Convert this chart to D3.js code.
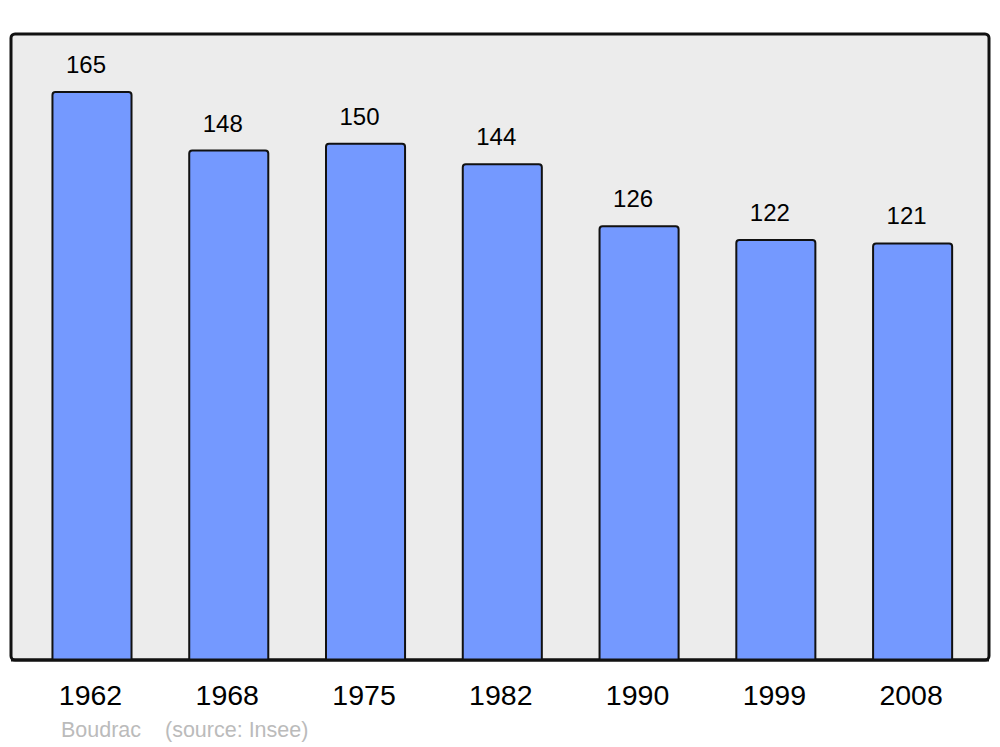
<!DOCTYPE html>
<html><head><meta charset="utf-8">
<script src="https://cdn.jsdelivr.net/npm/d3@7"></script>
<style>body{margin:0;background:#fff}svg{display:block}text{font-family:"Liberation Sans",Arial,sans-serif}</style>
</head><body>
<script>
const years = ["1962","1968","1975","1982","1990","1999","2008"];
const population = [165,148,150,144,126,122,121];
const commune = "Boudrac";
const sourceNote = "(source: Insee)";

const W = 1000, H = 747;
const svg = d3.select("body").append("svg").attr("width", W).attr("height", H);

const panel = {x0: 11, y0: 34, x1: 989, y1: 660};
svg.append("rect")
  .attr("x", panel.x0).attr("y", panel.y0)
  .attr("width", panel.x1 - panel.x0).attr("height", panel.y1 - panel.y0)
  .attr("rx", 4).attr("ry", 4)
  .attr("fill", "#ececec").attr("stroke", "#111").attr("stroke-width", 3);

const x = d3.scaleBand().domain(years).range([23.6, 981]).paddingInner(0.422).paddingOuter(0.211);
const y = d3.scaleLinear().domain([0, 165]).range([660, 92]);

const g = svg.append("g");
years.forEach((yr, i) => {
  const v = population[i];
  const x0 = x(yr), bw = x.bandwidth(), top = y(v), bot = y(0), r = 3;
  const p = `M${x0},${bot} L${x0},${top + r} Q${x0},${top} ${x0 + r},${top} L${x0 + bw - r},${top} Q${x0 + bw},${top} ${x0 + bw},${top + r} L${x0 + bw},${bot} Z`;
  g.append("path").attr("d", p).attr("fill", "#7499ff").attr("stroke", "#111").attr("stroke-width", 2);
  g.append("text").attr("x", x0 + bw / 2 - 6).attr("y", top - 19)
    .attr("text-anchor", "middle").attr("font-size", 24).attr("fill", "#000").text(v);
});

// redraw baseline on top
svg.append("line").attr("x1", panel.x0).attr("x2", panel.x1).attr("y1", panel.y1).attr("y2", panel.y1)
  .attr("stroke", "#111").attr("stroke-width", 3);

const xAxis = d3.axisBottom(x).tickSize(0).tickPadding(0);
const ax = svg.append("g").attr("transform", `translate(-1.5,${panel.y1})`).call(xAxis);
ax.select(".domain").remove();
ax.selectAll("text").attr("font-size", 28.5).attr("fill", "#000")
  .attr("font-family", "Liberation Sans, Arial, sans-serif").attr("dy", null).attr("y", 45);

svg.append("text").attr("x", 61).attr("y", 737).attr("font-size", 21.5).attr("fill", "#bbb").text(commune);
svg.append("text").attr("x", 165).attr("y", 737).attr("font-size", 21.5).attr("fill", "#bbb").text(sourceNote);
</script>
</body></html>
